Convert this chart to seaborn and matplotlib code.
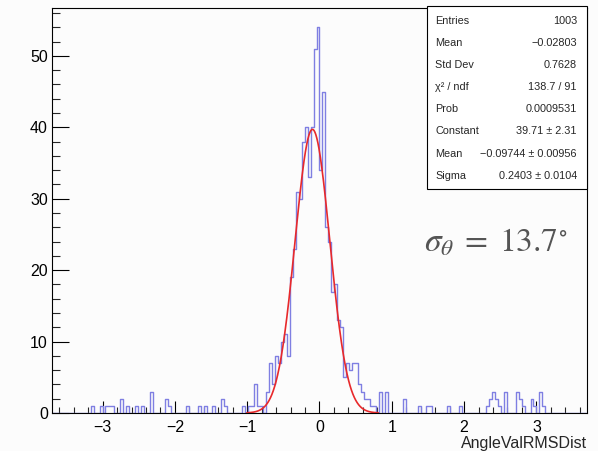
import numpy as np
import pandas as pd
import matplotlib
matplotlib.use("Agg")
import matplotlib.pyplot as plt
import seaborn as sns
from matplotlib.ticker import MultipleLocator
from matplotlib.patches import Rectangle

# Histogram definition and bin contents
x_lo, x_hi, n_bins = -3.7, 3.7, 180
counts = [
    0, 0, 0, 0, 0, 0, 0, 0, 0, 0, 0, 0, 0, 1, 0, 0, 1, 0, 1, 1,
    1, 0, 0, 2, 0, 1, 0, 0, 1, 0, 1, 0, 0, 3, 0, 0, 0, 0, 2, 1,
    0, 0, 0, 0, 0, 1, 0, 0, 0, 1, 0, 1, 0, 0, 1, 0, 0, 2, 1, 0,
    0, 0, 0, 0, 1, 0, 1, 1, 4, 1, 1, 0, 3, 7, 4, 8, 7, 10, 11, 8,
    19, 23, 31, 30, 38, 40, 33, 40, 51, 54, 34, 45, 26, 24, 17, 18, 13, 12, 5, 7,
    6, 7, 7, 4, 3, 2, 2, 1, 1, 0, 3, 0, 3, 0, 0, 0, 0, 0, 2, 0,
    0, 0, 0, 1, 0, 0, 1, 1, 0, 0, 0, 0, 0, 1, 0, 0, 0, 1, 0, 0,
    0, 0, 0, 0, 0, 0, 1, 2, 3, 2, 1, 0, 3, 0, 0, 0, 3, 2, 1, 0,
    0, 2, 1, 0, 3, 1, 0, 0, 0, 0, 0, 0, 0, 0, 0, 0, 0, 0, 0, 0,
]

# Gaussian fit result
fit_const, fit_mean, fit_sigma = 39.71, -0.09744, 0.2403

# Statistics box
stat_labels = ["Entries", "Mean", "Std Dev", "\u03c7\u00b2 / ndf", "Prob",
               "Constant", "Mean", "Sigma"]
stat_values = ["1003", "\u22120.02803", "0.7628", "138.7 / 91", "0.0009531",
               "39.71 \u00b1 2.31", "\u22120.09744 \u00b1 0.00956",
               "0.2403 \u00b1 0.0104"]

x_ticks = [-3, -2, -1, 0, 1, 2, 3]
y_ticks = [0, 10, 20, 30, 40, 50]
annotation = r"$\sigma_{\theta}\;=\;13.7^{\circ}$"
x_title = "AngleValRMSDist"

sns.set_theme(style="ticks")
plt.rcParams["font.family"] = ["Liberation Sans", "DejaVu Sans"]
plt.rcParams["mathtext.fontset"] = "stix"
plt.rcParams["axes.linewidth"] = 0.8

W, H = 598, 451
fig = plt.figure(figsize=(W / 100, H / 100), dpi=100)
bg = "#fcfcfc"
fig.patch.set_facecolor(bg)

ax_l, ax_r, ax_t, ax_b = 52, 587, 8, 413
ax = fig.add_axes([ax_l / W, 1 - ax_b / H, (ax_r - ax_l) / W, (ax_b - ax_t) / H])
ax.set_facecolor(bg)

bin_w = (x_hi - x_lo) / n_bins
centers = x_lo + bin_w * (np.arange(n_bins) + 0.5)
df = pd.DataFrame({x_title: centers, "n": counts})
sns.histplot(data=df, x=x_title, weights="n", bins=n_bins,
             binrange=(x_lo, x_hi), element="step", fill=False,
             color="#7f7fe2", linewidth=1.0, ax=ax, zorder=2)

xs = np.linspace(x_lo, x_hi, 1500)
ys = fit_const * np.exp(-0.5 * ((xs - fit_mean) / fit_sigma) ** 2)
ys = np.where(ys < 0.03, np.nan, ys)
sns.lineplot(x=xs, y=ys, color="#e8292b", linewidth=1.2, ax=ax, zorder=3)

ax.set_xlim(x_lo, x_hi)
ax.set_ylim(0, 56.7)
ax.set_xticks(x_ticks)
ax.set_yticks(y_ticks)
ax.set_xticklabels([f"{t}".replace("-", "\u2212") for t in x_ticks])
ax.xaxis.set_minor_locator(MultipleLocator(0.2))
ax.yaxis.set_minor_locator(MultipleLocator(2))
ax.tick_params(axis="x", which="major", direction="in", length=8.6, width=0.8,
               labelsize=11.5, pad=5, top=False, colors="black")
ax.tick_params(axis="x", which="minor", direction="in", length=4.3, width=0.8,
               top=False)
ax.tick_params(axis="y", which="major", direction="in", length=12, width=0.8,
               labelsize=11.5, pad=3, right=False, colors="black")
ax.tick_params(axis="y", which="minor", direction="in", length=6, width=0.8,
               right=False)
for s in ax.spines.values():
    s.set_color("black")
    s.set_linewidth(0.8)
    s.set_zorder(4)
ax.set_ylabel("")
ax.set_xlabel(x_title, loc="right", fontsize=11.5, labelpad=1)

# statistics box
bx0, by0, bx1, by1 = 427, 6, 587, 189
box = Rectangle((bx0 / W, 1 - by1 / H), (bx1 - bx0) / W, (by1 - by0) / H,
                transform=fig.transFigure, facecolor="white",
                edgecolor="black", linewidth=0.8, zorder=5)
fig.patches.append(box)
for i, (lab, val) in enumerate(zip(stat_labels, stat_values)):
    yc = 21 + 22.1 * i
    fig.text(435 / W, 1 - yc / H, lab, fontsize=7.8, ha="left", va="center",
             zorder=6)
    fig.text(577 / W, 1 - yc / H, val, fontsize=7.8, ha="right", va="center",
             zorder=6)

fig.text(424 / W, 1 - 251 / H, annotation, fontsize=24, color="#555555",
         ha="left", va="baseline")

fig.savefig("out.png", dpi=100, facecolor=fig.get_facecolor())
